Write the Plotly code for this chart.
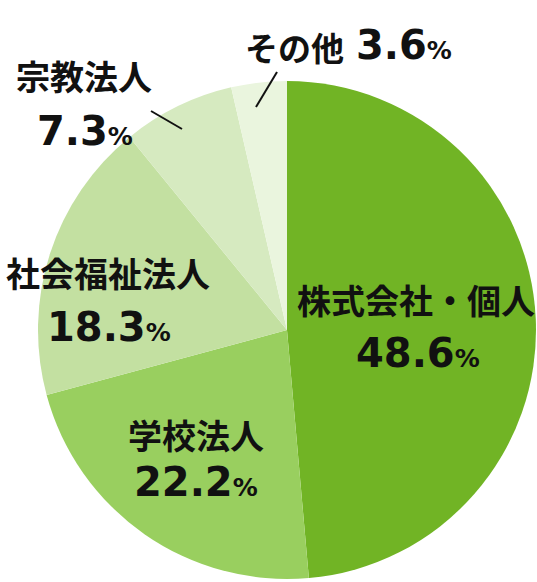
import plotly.graph_objects as go

categories = ["株式会社・個人", "学校法人", "社会福祉法人", "宗教法人", "その他"]
values = [48.6, 22.2, 18.3, 7.3, 3.6]
colors = ["#71b425", "#99cf5f", "#c3e0a1", "#d6eac0", "#eaf5de"]

W, H = 537, 582
FONT = "Noto Sans CJK JP"
NUMFONT = "DejaVu Sans"

def px(x):
    return x / W

def py(y):
    return 1 - y / H

cx, cy, r = 287, 330, 249
fig = go.Figure(go.Pie(
    labels=categories, values=values, sort=False, direction="clockwise",
    rotation=0, marker=dict(colors=colors, line=dict(width=0)),
    textinfo="none", hoverinfo="label+percent", showlegend=False,
    domain=dict(x=[px(cx - r), px(cx + r)], y=[py(cy + r), py(cy - r)]),
))

def val(v):
    return f"<b>{v}</b><span style='font-size:25px'><b>%</b></span>"

# (label center x, y, value center x, y)
pos = [
    (416, 300, 418, 353),
    (196, 434, 196, 482),
    (108, 272, 109, 327),
    (84, 76, 85, 131),
]
ann = []
for i, (lx, ly, vx, vy) in enumerate(pos):
    ann.append(dict(x=px(lx), y=py(ly), xref="paper", yref="paper", showarrow=False,
                    xanchor="center", yanchor="middle",
                    text=f"<b>{categories[i]}</b>", font=dict(family=FONT, size=34, color="#111")))
    ann.append(dict(x=px(vx), y=py(vy), xref="paper", yref="paper", showarrow=False,
                    xanchor="center", yanchor="middle",
                    text=val(values[i]), font=dict(family=NUMFONT, size=40, color="#111")))
# その他 on a single line
ann.append(dict(x=px(243), y=py(47), xref="paper", yref="paper", showarrow=False,
                xanchor="left", yanchor="middle",
                text=f"<b>{categories[4]}</b>", font=dict(family=FONT, size=33, color="#111")))
ann.append(dict(x=px(354), y=py(45), xref="paper", yref="paper", showarrow=False,
                xanchor="left", yanchor="middle",
                text=val(values[4]), font=dict(family=NUMFONT, size=40, color="#111")))

shapes = [
    dict(type="line", xref="paper", yref="paper", x0=px(277), y0=py(72), x1=px(256), y1=py(107),
         line=dict(color="#111", width=2)),
    dict(type="line", xref="paper", yref="paper", x0=px(151), y0=py(111), x1=px(182), y1=py(129),
         line=dict(color="#111", width=2)),
]

fig.update_layout(width=W, height=H, margin=dict(l=0, r=0, t=0, b=0),
                  paper_bgcolor="white", plot_bgcolor="white",
                  annotations=ann, shapes=shapes)
fig.write_html("out.html", config={"displayModeBar": False},
               post_script="document.body.style.margin='0';document.body.style.overflow='hidden';")
